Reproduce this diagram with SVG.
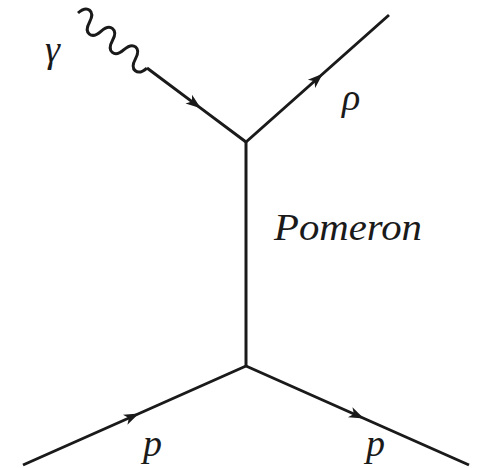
<svg xmlns="http://www.w3.org/2000/svg" width="480" height="468" viewBox="0 0 480 468">
  <style>
    .ln { fill: none; stroke: #1a1a1a; stroke-width: 3; stroke-linecap: butt; stroke-linejoin: miter; }
    .arr { marker-mid: url(#ah); }
    .lbl { font-family: "Liberation Serif", "DejaVu Serif", serif; font-style: italic; font-size: 38px; fill: #1a1a1a; }
  </style>
  <defs>
    <marker id="ah" markerUnits="userSpaceOnUse" viewBox="-15 -7 16 14" markerWidth="16" markerHeight="14" refX="0" refY="0" orient="auto" overflow="visible">
      <path d="M1,0 L-14,-5.5 L-10,0 L-14,5.5 Z" fill="#1a1a1a"/>
    </marker>
  </defs>
  <rect width="480" height="468" fill="#ffffff"/>
  <g id="connectors">
    <path id="photon" class="ln" transform="translate(78,13) rotate(38.6)" d="M0,0 c2.2,-12.5 12.5,-12.5 14.7,0 s12.5,12.5 14.7,0 s12.5,-12.5 14.7,0 s12.5,12.5 14.7,0 s12.5,-12.5 14.7,0 s12.5,12.5 14.7,0"/>
    <polyline id="gamma-line" class="ln arr" points="147,68 200,107.6 246,142"/>
    <polyline id="rho-line" class="ln arr" points="246,142 322,74.5 389,15"/>
    <line id="pomeron-line" class="ln" x1="246" y1="142" x2="246" y2="366"/>
    <polyline id="p-in" class="ln arr" points="23,465 138,414 246,366"/>
    <polyline id="p-out" class="ln arr" points="246,366 363,418 469,465"/>
  </g>
  <g id="gamma"><text class="lbl" x="45" y="62">γ</text></g>
  <g id="rho"><text class="lbl" x="342" y="110">ρ</text></g>
  <g id="pomeron"><text class="lbl" x="274" y="240" textLength="148" lengthAdjust="spacingAndGlyphs">Pomeron</text></g>
  <g id="p1"><text class="lbl" x="143" y="456">p</text></g>
  <g id="p2"><text class="lbl" x="366" y="456">p</text></g>
</svg>
